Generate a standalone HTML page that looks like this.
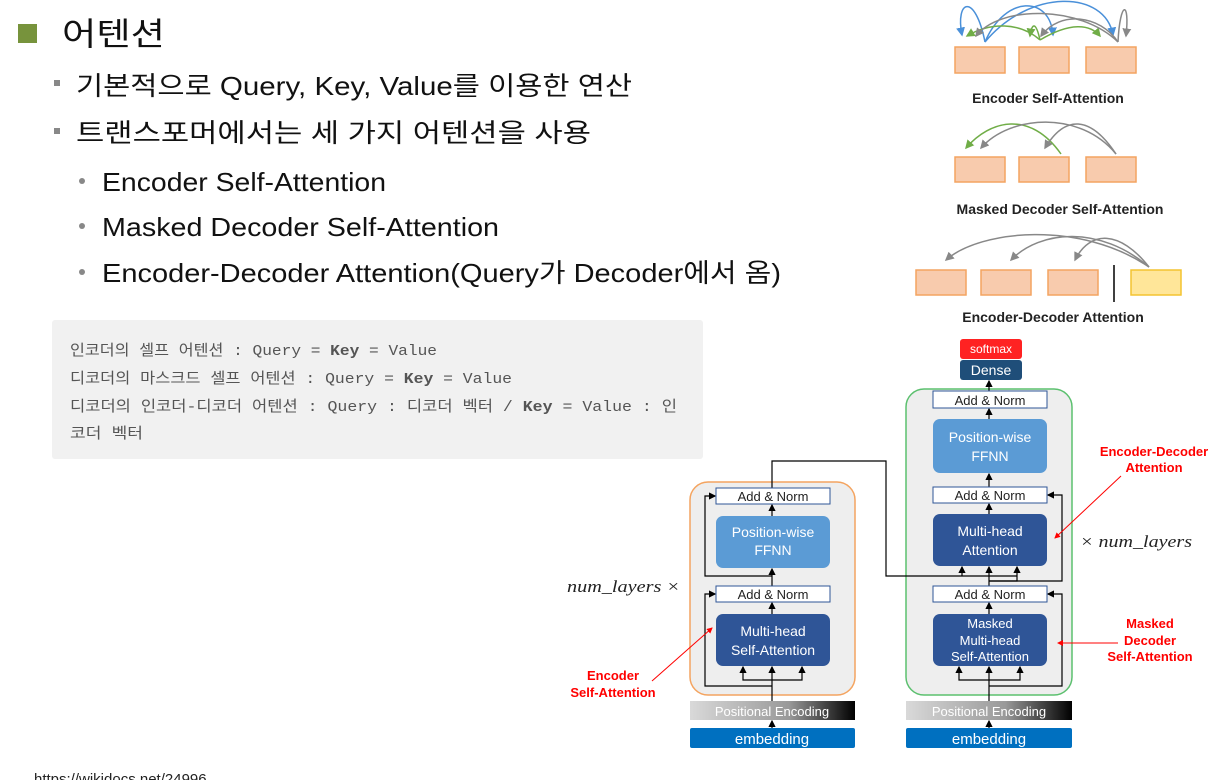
<!DOCTYPE html>
<html><head><meta charset="utf-8"><style>
html,body{margin:0;padding:0;background:#fff;width:1225px;height:780px;overflow:hidden}
svg{display:block}
.k{font-family:"Liberation Sans","Noto Sans CJK KR",sans-serif}
.m{font-family:"Liberation Mono","Noto Sans CJK KR",monospace;font-size:15px;fill:#555}
.w{font-family:"Liberation Sans",sans-serif;fill:#fff;text-anchor:middle}
.b{font-family:"Liberation Sans",sans-serif;fill:#222;text-anchor:middle}
.r{font-family:"Liberation Sans",sans-serif;fill:#f00;font-weight:bold;font-size:13px;text-anchor:middle}
</style></head><body>
<svg width="1225" height="780" viewBox="0 0 1225 780" xmlns="http://www.w3.org/2000/svg">
<defs>
<marker id="a" markerWidth="6" markerHeight="6" refX="5" refY="3" orient="auto"><path d="M0,0L6,3L0,6z" fill="#000"/></marker>
<marker id="ab" markerWidth="6" markerHeight="6" refX="5" refY="3" orient="auto"><path d="M0,0L6,3L0,6z" fill="#4a90d9"/></marker>
<marker id="ag" markerWidth="6" markerHeight="6" refX="5" refY="3" orient="auto"><path d="M0,0L6,3L0,6z" fill="#70ad47"/></marker>
<marker id="ay" markerWidth="6" markerHeight="6" refX="5" refY="3" orient="auto"><path d="M0,0L6,3L0,6z" fill="#888"/></marker>
<marker id="ar" markerWidth="6" markerHeight="6" refX="5" refY="3" orient="auto"><path d="M0,0L6,3L0,6z" fill="#f00"/></marker>
<linearGradient id="pe" x1="0" x2="1"><stop offset="0" stop-color="#d9d9d9"/><stop offset="0.6" stop-color="#999"/><stop offset="1" stop-color="#000"/></linearGradient>
</defs>
<rect x="18" y="24" width="19" height="19" fill="#77933c"/>
<text class="k" x="62" y="45" font-size="32" textLength="103" lengthAdjust="spacingAndGlyphs" fill="#111">어텐션</text>
<rect x="54" y="80" width="6" height="6" fill="#888"/>
<text class="k" x="76" y="95" font-size="26" textLength="556" lengthAdjust="spacingAndGlyphs" fill="#111">기본적으로 Query, Key, Value를 이용한 연산</text>
<rect x="54" y="128" width="6" height="6" fill="#888"/>
<text class="k" x="76" y="142" font-size="26" textLength="515" lengthAdjust="spacingAndGlyphs" fill="#111">트랜스포머에서는 세 가지 어텐션을 사용</text>
<circle cx="82" cy="181" r="3" fill="#888"/>
<text class="k" x="102" y="191" font-size="26" textLength="284" lengthAdjust="spacingAndGlyphs" fill="#111">Encoder Self-Attention</text>
<circle cx="82" cy="226" r="3" fill="#888"/>
<text class="k" x="102" y="236" font-size="26" textLength="397" lengthAdjust="spacingAndGlyphs" fill="#111">Masked Decoder Self-Attention</text>
<circle cx="82" cy="272" r="3" fill="#888"/>
<text class="k" x="102" y="282" font-size="26" textLength="679" lengthAdjust="spacingAndGlyphs" fill="#111">Encoder-Decoder Attention(Query가 Decoder에서 옴)</text>
<rect x="52" y="320" width="651" height="139" rx="3" fill="#f1f1f1"/>
<text class="m" x="70" y="355" textLength="367" lengthAdjust="spacingAndGlyphs">인코더의 셀프 어텐션 : Query = <tspan font-weight="bold">Key</tspan> = Value</text>
<text class="m" x="70" y="383" textLength="442" lengthAdjust="spacingAndGlyphs">디코더의 마스크드 셀프 어텐션 : Query = <tspan font-weight="bold">Key</tspan> = Value</text>
<text class="m" x="70" y="411" textLength="607" lengthAdjust="spacingAndGlyphs">디코더의 인코더-디코더 어텐션 : Query : 디코더 벡터 / <tspan font-weight="bold">Key</tspan> = Value : 인</text>
<text class="m" x="70" y="438" textLength="73" lengthAdjust="spacingAndGlyphs">코더 벡터</text>
<text class="k" x="34" y="784" font-size="15" fill="#222">https://wikidocs.net/24996</text>

<g fill="#f8cbad" stroke="#f4a460" stroke-width="1.5">
<rect x="955" y="47" width="50" height="26"/><rect x="1019" y="47" width="50" height="26"/><rect x="1086" y="47" width="50" height="26"/>
<rect x="955" y="157" width="50" height="25"/><rect x="1019" y="157" width="50" height="25"/><rect x="1086" y="157" width="50" height="25"/>
<rect x="916" y="270" width="50" height="25"/><rect x="981" y="270" width="50" height="25"/><rect x="1048" y="270" width="50" height="25"/>
</g>
<rect x="1131" y="270" width="50" height="25" fill="#ffe699" stroke="#f4c430" stroke-width="1.5"/>
<line x1="1114" y1="265" x2="1114" y2="302" stroke="#000" stroke-width="1.5"/>
<g fill="none" stroke-width="1.5">
<path d="M985,42 C975,-8 955,0 962,35" stroke="#4a90d9" marker-end="url(#ab)"/>
<path d="M985,42 C1005,-5 1050,-5 1053,35" stroke="#4a90d9" marker-end="url(#ab)"/>
<path d="M985,42 C1030,-12 1105,-10 1113,35" stroke="#4a90d9" marker-end="url(#ab)"/>
<path d="M1040,40 C1020,22 990,22 967,36" stroke="#70ad47" marker-end="url(#ag)"/>
<path d="M1040,40 C1036,22 1032,22 1030,36" stroke="#70ad47" marker-end="url(#ag)"/>
<path d="M1040,40 C1070,22 1090,24 1100,36" stroke="#70ad47" marker-end="url(#ag)"/>
<path d="M1118,42 C1080,5 1000,5 976,36" stroke="#888" marker-end="url(#ay)"/>
<path d="M1118,42 C1100,15 1060,10 1041,36" stroke="#888" marker-end="url(#ay)"/>
<path d="M1118,42 C1120,0 1130,0 1126,36" stroke="#888" marker-end="url(#ay)"/>
<path d="M1061,154 C1030,110 990,120 966,148" stroke="#70ad47" marker-end="url(#ag)"/>
<path d="M1116,154 C1080,110 1010,115 981,148" stroke="#888" marker-end="url(#ay)"/>
<path d="M1116,154 C1090,115 1065,115 1045,148" stroke="#888" marker-end="url(#ay)"/>
<path d="M1149,267 C1080,220 980,230 946,260" stroke="#888" marker-end="url(#ay)"/>
<path d="M1149,267 C1100,225 1040,230 1011,260" stroke="#888" marker-end="url(#ay)"/>
<path d="M1149,267 C1120,230 1090,230 1075,260" stroke="#888" marker-end="url(#ay)"/>
</g>
<text x="1048" y="103" font-family="Liberation Sans,sans-serif" font-size="14" font-weight="bold" fill="#222" text-anchor="middle">Encoder Self-Attention</text>
<text x="1060" y="214" font-family="Liberation Sans,sans-serif" font-size="14" font-weight="bold" fill="#222" text-anchor="middle">Masked Decoder Self-Attention</text>
<text x="1053" y="322" font-family="Liberation Sans,sans-serif" font-size="14" font-weight="bold" fill="#222" text-anchor="middle">Encoder-Decoder Attention</text>

<rect x="690" y="482" width="165" height="213" rx="18" fill="#eee" stroke="#f4a460" stroke-width="1.5"/>
<rect x="906" y="389" width="166" height="306" rx="18" fill="#eee" stroke="#5cc06f" stroke-width="1.5"/>
<g stroke="#000" stroke-width="1.2" fill="none">
<path d="M772,701 L772,667" marker-end="url(#a)"/>
<path d="M772,680 L743,680 L743,667" marker-end="url(#a)"/>
<path d="M772,680 L802,680 L802,667" marker-end="url(#a)"/>
<path d="M772,686 L705,686 L705,594 L715,594" marker-end="url(#a)"/>
<path d="M772,614 L772,603" marker-end="url(#a)"/>
<path d="M772,586 L772,569" marker-end="url(#a)"/>
<path d="M772,576 L705,576 L705,496 L715,496" marker-end="url(#a)"/>
<path d="M772,516 L772,505" marker-end="url(#a)"/>
<path d="M772,488 L772,461 L886,461 L886,576 L1017,576"/>
<path d="M962,576 L962,567" marker-end="url(#a)"/>
<path d="M989,701 L989,667" marker-end="url(#a)"/>
<path d="M989,680 L959,680 L959,667" marker-end="url(#a)"/>
<path d="M989,680 L1020,680 L1020,667" marker-end="url(#a)"/>
<path d="M989,686 L1062,686 L1062,594 L1048,594" marker-end="url(#a)"/>
<path d="M989,614 L989,603" marker-end="url(#a)"/>
<path d="M989,586 L989,567" marker-end="url(#a)"/>
<path d="M989,581 L1017,581 L1017,567" marker-end="url(#a)"/>
<path d="M989,581 L1062,581 L1062,495 L1048,495" marker-end="url(#a)"/>
<path d="M989,514 L989,504" marker-end="url(#a)"/>
<path d="M989,487 L989,474" marker-end="url(#a)"/>
<path d="M989,419 L989,409" marker-end="url(#a)"/>
<path d="M989,391 L989,381" marker-end="url(#a)"/>
<path d="M772,728 L772,721" marker-end="url(#a)"/>
<path d="M989,728 L989,721" marker-end="url(#a)"/>
</g>
<g stroke="#2f5597" stroke-width="1" fill="#fff">
<rect x="716" y="488" width="114" height="16"/><rect x="716" y="586" width="114" height="16"/>
<rect x="933" y="391" width="114" height="17"/><rect x="933" y="487" width="114" height="16"/><rect x="933" y="586" width="114" height="16"/>
</g>
<g font-size="13">
<text class="b" x="773" y="501">Add &amp; Norm</text><text class="b" x="773" y="599">Add &amp; Norm</text>
<text class="b" x="990" y="405">Add &amp; Norm</text><text class="b" x="990" y="500">Add &amp; Norm</text><text class="b" x="990" y="599">Add &amp; Norm</text>
</g>
<rect x="716" y="516" width="114" height="52" rx="7" fill="#5b9bd5"/>
<rect x="933" y="419" width="114" height="54" rx="7" fill="#5b9bd5"/>
<rect x="716" y="614" width="114" height="52" rx="7" fill="#2f5597"/>
<rect x="933" y="514" width="114" height="52" rx="7" fill="#2f5597"/>
<rect x="933" y="614" width="114" height="52" rx="7" fill="#2f5597"/>
<g font-size="14">
<text class="w" x="773" y="537">Position-wise</text><text class="w" x="773" y="555">FFNN</text>
<text class="w" x="990" y="442">Position-wise</text><text class="w" x="990" y="461">FFNN</text>
<text class="w" x="773" y="636">Multi-head</text><text class="w" x="773" y="655">Self-Attention</text>
<text class="w" x="990" y="536">Multi-head</text><text class="w" x="990" y="555">Attention</text>
</g>
<g font-size="13"><text class="w" x="990" y="628">Masked</text><text class="w" x="990" y="645">Multi-head</text><text class="w" x="990" y="661">Self-Attention</text></g>
<rect x="960" y="339" width="62" height="20" rx="3" fill="#ff2222"/>
<rect x="960" y="360" width="62" height="20" rx="3" fill="#1f4e79"/>
<text class="w" x="991" y="353" font-size="12">softmax</text>
<text class="w" x="991" y="375" font-size="14">Dense</text>
<rect x="690" y="701" width="165" height="19" fill="url(#pe)"/>
<rect x="906" y="701" width="166" height="19" fill="url(#pe)"/>
<text class="w" x="772" y="716" font-size="13">Positional Encoding</text>
<text class="w" x="989" y="716" font-size="13">Positional Encoding</text>
<rect x="690" y="728" width="165" height="20" rx="2" fill="#0070c0"/>
<rect x="906" y="728" width="166" height="20" rx="2" fill="#0070c0"/>
<text class="w" x="772" y="744" font-size="15">embedding</text>
<text class="w" x="989" y="744" font-size="15">embedding</text>
<text x="567" y="592" font-family="Liberation Serif,serif" font-style="italic" font-size="17" textLength="113" lengthAdjust="spacingAndGlyphs" fill="#222">num_layers ×</text>
<text x="1080" y="547" font-family="Liberation Serif,serif" font-style="italic" font-size="17" textLength="112" lengthAdjust="spacingAndGlyphs" fill="#222">× num_layers</text>
<text class="r" x="1154" y="456">Encoder-Decoder</text><text class="r" x="1154" y="472">Attention</text>
<text class="r" x="1150" y="628">Masked</text><text class="r" x="1150" y="645">Decoder</text><text class="r" x="1150" y="661">Self-Attention</text>
<text class="r" x="613" y="680">Encoder</text><text class="r" x="613" y="697">Self-Attention</text>
<g stroke="#f00" stroke-width="1" fill="none">
<line x1="1121" y1="476" x2="1055" y2="538" marker-end="url(#ar)"/>
<line x1="1118" y1="643" x2="1058" y2="643" marker-end="url(#ar)"/>
<line x1="652" y1="681" x2="712" y2="628" marker-end="url(#ar)"/>
</g>
</svg>
</body></html>
